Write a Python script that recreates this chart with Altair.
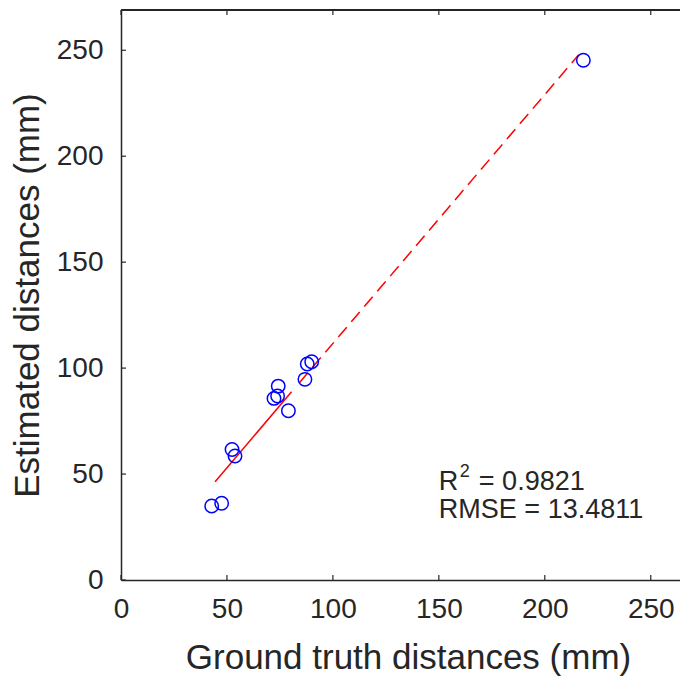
import altair as alt
import pandas as pd

# Data
ground_truth = [42.8, 47.5, 52.4, 53.8, 72.2, 73.9, 74.2, 79.0, 86.8, 87.9, 90.0, 218.2]
estimated = [34.9, 36.2, 61.6, 58.5, 85.7, 86.8, 91.5, 79.9, 94.7, 101.9, 103.0, 245.3]

fit_solid_x = [44.4, 80.5]
fit_solid_y = [46.4, 88.8]
fit_dash_x = [84.2, 216.0]
fit_dash_y = [93.1, 247.9]

tick_values = [0, 50, 100, 150, 200, 250]
r2_label = ["R", "2", "= 0.9821"]
rmse_label = ["RMSE = 13.4811"]
annot_x = 150
r2_y = 42.5
rmse_y = 29.2

W, H = 559, 570
FONT = "Liberation Sans"
AX = "#262626"

pts = pd.DataFrame({"gt": ground_truth, "est": estimated})
solid = pd.DataFrame({"gt": fit_solid_x, "est": fit_solid_y})
dash = pd.DataFrame({"gt": fit_dash_x, "est": fit_dash_y})
ticks = pd.DataFrame({"t": tick_values})

xs = alt.Scale(domain=[0, 263.8], nice=False, zero=False)
ys = alt.Scale(domain=[0, 269], nice=False, zero=False)

xaxis = alt.Axis(values=tick_values, ticks=False, grid=False, domainColor=AX, domainWidth=1.5,
                 labelFont=FONT, labelFontSize=28, labelColor=AX, labelPadding=15, labelFlush=False,
                 title="Ground truth distances (mm)", titleFont=FONT, titleFontSize=35,
                 titleFontWeight="normal", titleColor=AX, titlePadding=17, titleX=287)
yaxis = alt.Axis(values=tick_values, ticks=False, grid=False, domainColor=AX, domainWidth=1.5,
                 labelFont=FONT, labelFontSize=28, labelColor=AX, labelPadding=18, labelFlush=False,
                 title="Estimated distances (mm)", titleFont=FONT, titleFontSize=35,
                 titleFontWeight="normal", titleColor=AX, titlePadding=11)

points = alt.Chart(pts).mark_point(shape="circle", filled=False, color="#0000ff", size=180,
                                   strokeWidth=1.5, opacity=1).encode(
    x=alt.X("gt:Q", scale=xs, axis=xaxis),
    y=alt.Y("est:Q", scale=ys, axis=yaxis),
)

line_solid = alt.Chart(solid).mark_line(color="#ff0000", strokeWidth=1.5).encode(
    x=alt.X("gt:Q", scale=xs), y=alt.Y("est:Q", scale=ys))
line_dash = alt.Chart(dash).mark_line(color="#ff0000", strokeWidth=1.5, strokeDash=[13, 7]).encode(
    x=alt.X("gt:Q", scale=xs), y=alt.Y("est:Q", scale=ys))


def label(txt, yv, size, dx, dy):
    df = pd.DataFrame({"x": [annot_x], "y": [yv], "label": [txt]})
    return alt.Chart(df).mark_text(font=FONT, fontSize=size, color=AX, align="left",
                                   baseline="alphabetic", dx=dx, dy=dy).encode(
        x=alt.X("x:Q", scale=xs), y=alt.Y("y:Q", scale=ys), text="label:N")


t_r = label(r2_label[0], r2_y, 27, 0, 0)
t_2 = label(r2_label[1], r2_y, 18, 21, -13)
t_eq = label(r2_label[2], r2_y, 27, 40, 0)
t_rmse = label(rmse_label[0], rmse_y, 27, 0, 0)

top_border = alt.Chart(ticks).mark_rule(color=AX, strokeWidth=1.5).encode(
    x=alt.value(0), x2=alt.value(W), y=alt.value(0))

tb = alt.Chart(ticks).mark_rule(color=AX, strokeWidth=1.2).encode(
    x=alt.X("t:Q", scale=xs), y=alt.value(H), y2=alt.value(H - 5))
tt = alt.Chart(ticks).mark_rule(color=AX, strokeWidth=1.2).encode(
    x=alt.X("t:Q", scale=xs), y=alt.value(0), y2=alt.value(5))
tl = alt.Chart(ticks).mark_rule(color=AX, strokeWidth=1.2).encode(
    y=alt.Y("t:Q", scale=ys), x=alt.value(0), x2=alt.value(5))

chart = alt.layer(line_solid, line_dash, points, t_r, t_2, t_eq, t_rmse,
                  top_border, tb, tt, tl).properties(
    width=W, height=H,
    padding={"left": 113, "top": 2, "right": 0, "bottom": 97},
    autosize=alt.AutoSizeParams(type="none"),
    background="white",
).configure_view(stroke=None)

chart.save("out.html", embed_options={"renderer": "svg", "actions": False})
